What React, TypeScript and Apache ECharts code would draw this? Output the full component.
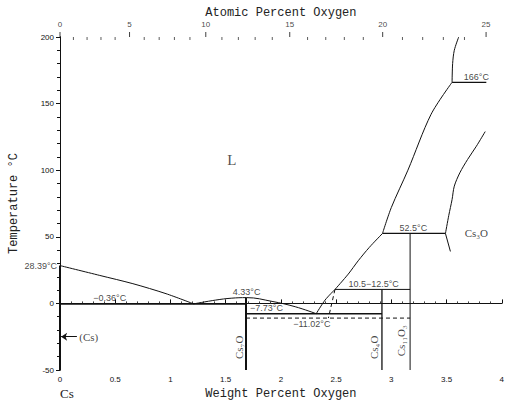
import React, { useEffect, useRef } from "react";
import * as echarts from "echarts";

// ---------- data ----------
const atomicMajor = [0, 5, 10, 15, 20, 25];
const atomicMinor = [1, 2, 3, 4, 6, 7, 8, 9, 11, 12, 13, 14, 16, 17, 18, 19, 21, 22, 23, 24];
const MASS_CS = 132.905;
const MASS_O = 15.999;

const leftLiquidus = [[0, 28.39], [0.36, 21], [0.66, 14.8], [0.96, 7.3], [1.21, -0.36]];
const cs7oLiquidus = [[1.21, -0.36], [1.41, 2.5], [1.55, 3.9], [1.69, 4.33], [1.92, 1.5], [2.13, -2.5], [2.32, -7.73]];
const lowLiquidus = [[2.32, -7.73], [2.4, 2.5], [2.49, 10.5]];
const midLiquidus = [[2.49, 10.5], [2.61, 22], [2.7, 32], [2.8, 42], [2.92, 52.5]];
const upperLiquidus = [[2.92, 52.5], [3.0, 72], [3.15, 100], [3.36, 142], [3.55, 166]];
const topBranch = [[3.55, 166], [3.555, 180], [3.57, 190], [3.61, 200]];
const cs3oUpper = [[3.49, 52.5], [3.52, 66], [3.55, 78], [3.57, 88], [3.62, 98], [3.69, 108], [3.77, 118], [3.85, 129]];
const cs3oLower = [[3.49, 52.5], [3.535, 39]];
const csSolid = [[0, 28.39], [0, -50]];
const cs7oLine = [[1.684, 4.33], [1.684, -50]];
const cs4oLine = [[2.915, 10.5], [2.915, -50]];
const cs11o3Line = [[3.17, 52.5], [3.17, -50]];
const iso036 = [[0, -0.36], [1.684, -0.36]];
const iso773 = [[1.684, -7.73], [2.915, -7.73]];
const iso1102 = [[1.684, -11.02], [3.17, -11.02]];
const iso105 = [[2.49, 10.5], [3.17, 10.5]];
const iso525 = [[2.92, 52.5], [3.49, 52.5]];
const iso166 = [[3.55, 166], [3.86, 166]];
const metastable = [[2.49, 10.5], [2.43, -11.02]];

// annotations: [x, y, text, position, rotate]
const annotations: [number, number, string, string, number][] = [
  [0, 28.39, "28.39°C", "left", 0],
  [0.45, -0.36, "−0.36°C", "top", 0],
  [1.69, 4.33, "4.33°C", "top", 0],
  [1.87, -7.73, "−7.73°C", "top", 0],
  [2.28, -11.02, "−11.02°C", "bottom", 0],
  [2.84, 10.5, "10.5−12.5°C", "top", 0],
  [3.2, 52.5, "52.5°C", "top", 0],
  [3.77, 166, "166°C", "top", 0],
];
const phaseLabels: [number, number, string, number][] = [
  [3.77, 52.5, "Cs₃O", 0],
  [1.618, -33, "Cs₇O", 90],
  [2.846, -33, "Cs₄O", 90],
  [3.09, -28, "Cs₁₁O₃", 90],
  [0.26, -25, "(Cs)", 0],
];
const liquidLabel: [number, number, string] = [1.555, 107.6, "L"];

function atToWt(a: number) {
  return (100 * a * MASS_O) / (a * MASS_O + (100 - a) * MASS_CS);
}

const MONO = "'Liberation Mono', 'DejaVu Sans Mono', monospace";
const SANS = "'Liberation Sans', Arial, sans-serif";
const SERIF = "'Liberation Serif', 'DejaVu Serif', serif";

function lineSeries(data: number[][], width = 1, opts: any = {}) {
  return {
    type: "line",
    data,
    symbol: "none",
    smooth: opts.smooth ?? 0,
    lineStyle: { color: "#111", width, type: opts.dashed ? [4, 3] : "solid" },
    silent: true,
    z: 3,
  };
}

export default function App() {
  const ref = useRef<HTMLDivElement>(null);
  useEffect(() => {
    if (!ref.current) return;
    const chart = echarts.init(ref.current, null, { renderer: "svg" });
    const series: any[] = [
      lineSeries(leftLiquidus, 1, { smooth: 0.3 }),
      lineSeries(cs7oLiquidus, 1, { smooth: 0.4 }),
      lineSeries(lowLiquidus, 1, { smooth: 0.3 }),
      lineSeries(midLiquidus, 1, { smooth: 0.3 }),
      lineSeries(upperLiquidus, 1, { smooth: 0.3 }),
      lineSeries(topBranch, 1, { smooth: 0.3 }),
      lineSeries(cs3oUpper, 1, { smooth: 0.3 }),
      lineSeries(cs3oLower, 1),
      lineSeries(csSolid, 2),
      lineSeries(cs7oLine, 2),
      lineSeries(cs4oLine, 1.3),
      lineSeries(cs11o3Line, 1),
      lineSeries(iso036, 1.5),
      lineSeries(iso773, 1.5),
      lineSeries(iso1102, 1, { dashed: true }),
      lineSeries(iso105, 1),
      lineSeries(iso525, 1.3),
      lineSeries(iso166, 1.3),
      lineSeries(metastable, 1, { dashed: true }),
      {
        type: "scatter",
        symbolSize: 0,
        silent: true,
        data: annotations.map((a) => ({
          value: [a[0], a[1]],
          name: a[2],
          label: { position: a[3], distance: a[3] === "left" ? 3 : 1 },
        })),
        label: { show: true, formatter: "{b}", color: "#111", fontSize: 9, fontFamily: SANS },
        markLine: {
          silent: true,
          symbol: ["none", "arrow"],
          symbolSize: 6,
          label: { show: false },
          lineStyle: { color: "#111", width: 1, type: "solid" },
          data: [[{ coord: [0.153, -25] }, { coord: [0.01, -25] }]],
        },
      },
      {
        type: "scatter",
        symbolSize: 0,
        silent: true,
        data: phaseLabels.map((a) => ({
          value: [a[0], a[1]],
          name: a[2],
          label: { rotate: a[3] },
        })),
        label: { show: true, position: "inside", formatter: "{b}", color: "#111", fontSize: 11, fontFamily: SERIF },
      },
      {
        type: "scatter",
        symbolSize: 0,
        silent: true,
        data: [{ value: [liquidLabel[0], liquidLabel[1]], name: liquidLabel[2] }],
        label: { show: true, position: "inside", formatter: "{b}", color: "#222", fontSize: 15, fontFamily: SERIF },
      },
      {
        type: "scatter",
        symbol: "rect",
        symbolSize: [1, 5],
        symbolOffset: [0, -2.5],
        itemStyle: { color: "#111" },
        silent: true,
        clip: false,
        data: atomicMajor.map((a) => ({ value: [atToWt(a), 200], name: String(a) })),
        label: { show: true, position: "top", distance: 4, formatter: "{b}", color: "#111", fontSize: 8, fontFamily: SANS },
      },
      {
        type: "scatter",
        symbol: "rect",
        symbolSize: [1, 3],
        symbolOffset: [0, 1.5],
        itemStyle: { color: "#333" },
        silent: true,
        clip: false,
        data: atomicMinor.map((a) => [atToWt(a), 200]),
      },
    ];

    chart.setOption({
      animation: false,
      backgroundColor: "#fff",
      grid: { left: 60, right: 2, top: 37, bottom: 35 },
      xAxis: [
        {
          type: "value",
          min: 0,
          max: 4,
          interval: 0.5,
          position: "bottom",
          name: "Weight Percent Oxygen",
          nameLocation: "middle",
          nameGap: 17,
          nameTextStyle: { fontFamily: MONO, fontSize: 12, color: "#222" },
          axisLine: { show: true, lineStyle: { color: "#111", width: 1 } },
          axisTick: { show: true, inside: true, length: 4, lineStyle: { color: "#111" } },
          minorTick: { show: true, splitNumber: 5, length: 2, lineStyle: { color: "#444" } },
          axisLabel: { fontSize: 8, fontFamily: SANS, color: "#111", margin: 5 },
          splitLine: { show: false },
        },
        {
          type: "value",
          min: 0,
          max: 4,
          position: "top",
          name: "Atomic Percent Oxygen",
          nameLocation: "middle",
          nameGap: 18,
          nameTextStyle: { fontFamily: MONO, fontSize: 12, color: "#222" },
          axisLine: { show: true, lineStyle: { color: "#111", width: 1 } },
          axisTick: { show: false },
          axisLabel: { show: false },
          splitLine: { show: false },
        },
      ],
      yAxis: [
        {
          type: "value",
          min: -50,
          max: 200,
          interval: 50,
          position: "left",
          name: "Temperature °C",
          nameLocation: "middle",
          nameGap: 40,
          nameTextStyle: { fontFamily: MONO, fontSize: 12, color: "#222" },
          axisLine: { show: true, lineStyle: { color: "#111", width: 1 } },
          axisTick: { show: true, length: 4, lineStyle: { color: "#111" } },
          minorTick: { show: true, splitNumber: 5, length: 2, lineStyle: { color: "#444" } },
          axisLabel: { fontSize: 8, fontFamily: SANS, color: "#111", margin: 6 },
          splitLine: { show: false },
        },
        {
          type: "value",
          min: -50,
          max: 200,
          interval: 10,
          position: "right",
          axisLine: { show: true, lineStyle: { color: "#111", width: 1 } },
          axisTick: { show: true, inside: true, length: 3, lineStyle: { color: "#111" } },
          axisLabel: { show: false },
          splitLine: { show: false },
        },
      ],
      graphic: [
        {
          type: "text",
          left: 60,
          top: 387,
          style: { text: "Cs", fontFamily: SERIF, fontSize: 13, fill: "#222" },
        },
      ],
      series,
    });
    return () => chart.dispose();
  }, []);
  return (
    <div
      ref={ref}
      style={{ position: "fixed", left: 0, top: 0, width: 507, height: 405, background: "#fff" }}
    />
  );
}
